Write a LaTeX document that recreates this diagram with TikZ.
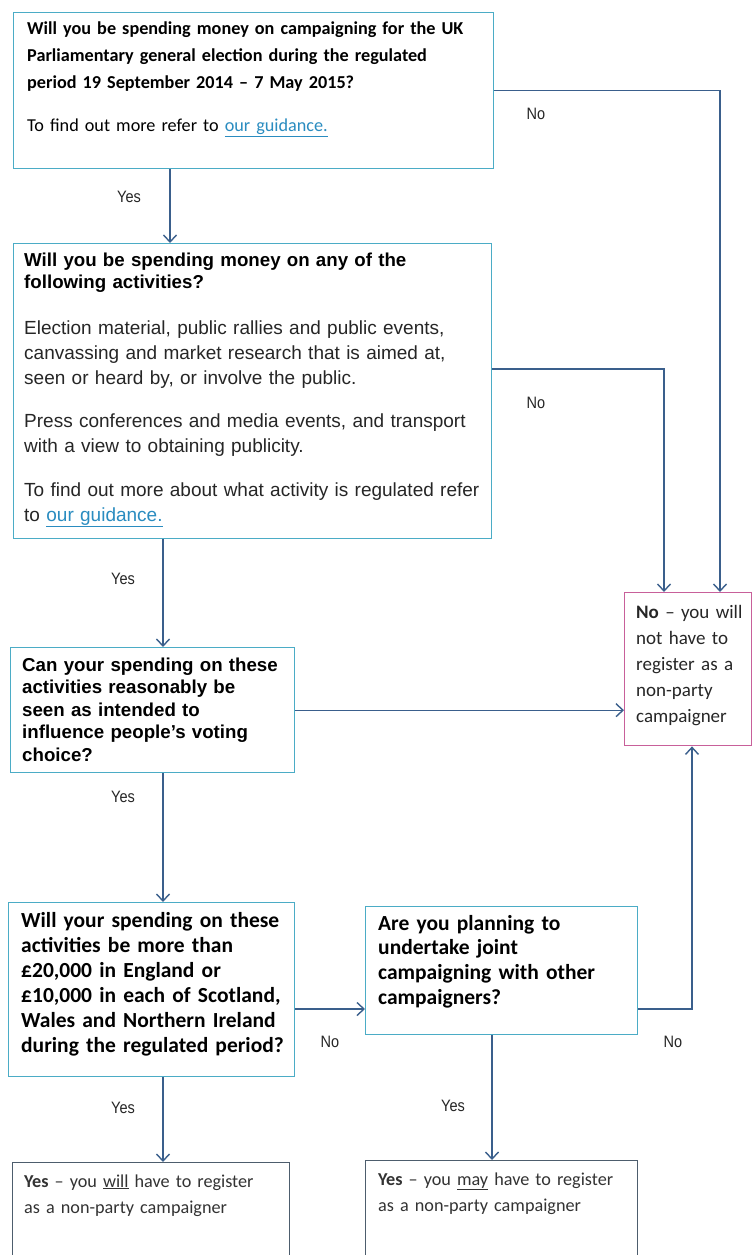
\documentclass[tikz,border=0pt]{standalone}
\usepackage{fontspec}
\usetikzlibrary{arrows.meta,calc}
\newfontfamily\calfont{Carlito}
\newfontfamily\arfont{Liberation Sans}
\newfontfamily\lblfont[FakeStretch=0.88]{Liberation Sans}
\definecolor{qblue}{HTML}{4BACC6}
\definecolor{nopink}{HTML}{C8609A}
\definecolor{yesgray}{HTML}{4D5D6D}
\definecolor{connc}{HTML}{3A5F8C}
\definecolor{linkc}{HTML}{2A8CC0}
\newcommand{\lnk}[1]{\textcolor{linkc}{\underline{#1}}}
\tikzset{
  boxbase/.style={inner sep=0pt, anchor=north west, line width=1.4pt},
  qbox/.style={boxbase, draw=qblue},
  nobox/.style={boxbase, draw=nopink},
  ybox/.style={boxbase, draw=yesgray},
  txt/.style={inner sep=0pt, anchor=north west, align=left, text width=500pt},
  conn/.style={draw=connc, line width=1.4pt, -{Straight Barb[length=7pt,width=13pt]}},
  lbl/.style={inner sep=0pt, font=\lblfont\fontsize{16.5}{16.5}\selectfont, text=black!85}
}
\begin{document}
\begin{tikzpicture}[x=1pt,y=-1pt]
\useasboundingbox (0,0) rectangle (752,1255);
\fill[white] (0,0) rectangle (752,1255);

% boxes
\node (q1) [qbox, minimum width=480pt, minimum height=156pt] at (13,12) {};
\node (q2) [qbox, minimum width=478pt, minimum height=295pt] at (13,243) {};
\node (q3) [qbox, minimum width=284pt, minimum height=125pt] at (10,647) {};
\node (no) [nobox, minimum width=127pt, minimum height=153pt] at (624,592) {};
\node (q4) [qbox, minimum width=286pt, minimum height=174pt] at (8,902) {};
\node (q5) [qbox, minimum width=272pt, minimum height=128pt] at (365,906) {};
\node (yw) [ybox, minimum width=277pt, minimum height=110pt] at (12,1162) {};
\node (ym) [ybox, minimum width=272pt, minimum height=112pt] at (365,1160) {};

% texts
\node (q1t) [txt, font=\calfont\bfseries\fontsize{18.2}{27}\selectfont] at (27,19)
 {\rule{0pt}{15pt}Will you be spending money on campaigning for the UK\\
  Parliamentary general election during the regulated\\
  period 19 September 2014 – 7 May 2015?\\[16pt]
  \mdseries To find out more refer to \lnk{our guidance.}};

\node (q2h) [txt, font=\arfont\bfseries\fontsize{18.7}{22}\selectfont] at (24,251)
 {\rule{0pt}{15pt}Will you be spending money on any of the\\ following activities?};
\node (q2b) [txt, font=\arfont\fontsize{19}{25}\selectfont, text=black!85] at (24,319)
 {\rule{0pt}{15pt}Election material, public rallies and public events,\\
  canvassing and market research that is aimed at,\\
  seen or heard by, or involve the public.\\[18pt]
  Press conferences and media events, and transport\\
  with a view to obtaining publicity.\\[19pt]
  To find out more about what activity is regulated refer\\
  to \lnk{our guidance.}};

\node (q3t) [txt, font=\arfont\bfseries\fontsize{18.7}{22.5}\selectfont] at (22,656)
 {\rule{0pt}{15pt}Can your spending on these\\ activities reasonably be\\ seen as intended to\\ influence people’s voting\\ choice?};

\node (not) [txt, font=\calfont\fontsize{19}{26}\selectfont, text=black!85] at (636,603)
 {\rule{0pt}{15pt}\textbf{No} – you will\\ not have to\\ register as a\\ non-party\\ campaigner};

\node (q4t) [txt, font=\calfont\bfseries\fontsize{21.5}{25}\selectfont] at (21,909)
 {\rule{0pt}{18pt}Will your spending on these\\ activities be more than\\ £20,000 in England or\\ £10,000 in each of Scotland,\\ Wales and Northern Ireland\\ during the regulated period?};

\node (q5t) [txt, font=\calfont\bfseries\fontsize{21.5}{24.7}\selectfont] at (378,912)
 {\rule{0pt}{18pt}Are you planning to\\ undertake joint\\ campaigning with other\\ campaigners?};

\node (ywt) [txt, font=\calfont\fontsize{18.2}{26}\selectfont, text=black!80] at (24,1172)
 {\rule{0pt}{15pt}\textbf{Yes} – you \underline{will} have to register\\ as a non-party campaigner};
\node (ymt) [txt, font=\calfont\fontsize{18.2}{26}\selectfont, text=black!80] at (378,1170)
 {\rule{0pt}{15pt}\textbf{Yes} – you \underline{may} have to register\\ as a non-party campaigner};

% helper coordinates
\coordinate (vt) at (170,0);
\coordinate (vx) at (163,0);
\coordinate (hy) at (0,1009);
\coordinate (q2no) at (0,369);
\coordinate (vy) at (492,0);

% connectors
\draw[conn] (q1.south -| vt) -- (q2.north -| vt);
\draw[conn] (q1.east) -| ([xshift=96pt]no.north west);
\draw[conn] (q2.east |- q2no) -| ([xshift=40pt]no.north west);
\draw[conn] (q2.south -| vx) -- (q3.north -| vx);
\draw[conn] (q3.east) -- (q3.east -| no.west);
\draw[conn] (q3.south -| vx) -- (q4.north -| vx);
\draw[conn] (q4.east |- hy) -- (q5.west |- hy);
\draw[conn] (q5.east |- hy) -| ([xshift=68pt]no.south west);
\draw[conn] (q4.south -| vx) -- (yw.north -| vx);
\draw[conn] (q5.south -| vy) -- (ym.north -| vy);

% labels
\node (l1) [lbl] at (536,114) {No};
\node (l2) [lbl] at (536,403) {No};
\node (l3) [lbl] at (330,1042) {No};
\node (l4) [lbl] at (673,1042) {No};
\node (l5) [lbl] at (129,197) {Yes};
\node (l6) [lbl] at (123,579) {Yes};
\node (l7) [lbl] at (123,797) {Yes};
\node (l8) [lbl] at (123,1108) {Yes};
\node (l9) [lbl] at (453,1106) {Yes};
\end{tikzpicture}
\end{document}
